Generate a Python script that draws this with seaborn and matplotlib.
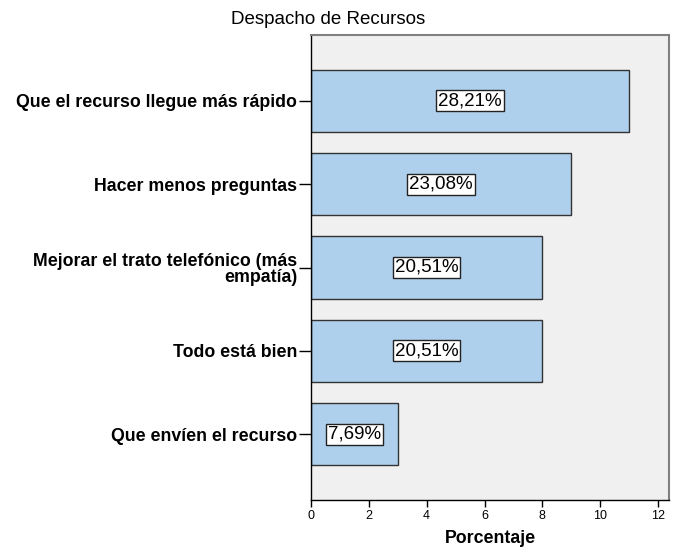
import matplotlib
matplotlib.use("Agg")
import matplotlib.pyplot as plt
import seaborn as sns
import pandas as pd

categorias = ["Que el recurso llegue más rápido",
              "Hacer menos preguntas",
              "Mejorar el trato telefónico (más\nempatía)",
              "Todo está bien",
              "Que envíen el recurso"]
valores = [11, 9, 8, 8, 3]
etiquetas = ["28,21%", "23,08%", "20,51%", "20,51%", "7,69%"]

df = pd.DataFrame({"categoria": categorias, "valor": valores})

sns.set_style("white", {"text.color": "black", "axes.labelcolor": "black",
                        "xtick.color": "black", "ytick.color": "black"})
plt.rcParams["font.family"] = ["Liberation Sans", "DejaVu Sans"]

fig = plt.figure(figsize=(6.84, 5.51), dpi=100)
ax = fig.add_axes([311 / 684, 51 / 551, 358 / 684, 465 / 551])
ax.set_facecolor("#f0f0f0")

sns.barplot(data=df, x="valor", y="categoria", orient="h", color="#afd0ed",
            edgecolor="#333333", linewidth=1, width=0.745, saturation=1, ax=ax)

for i, (v, lab) in enumerate(zip(valores, etiquetas)):
    ax.text(v / 2, i, lab, ha="center", va="center", fontsize=13.5,
            color="black",
            bbox=dict(boxstyle="square,pad=0.1", fc="white", ec="#222222", lw=1))

ax.set_xlim(0, 12.38)
ax.set_ylim(4.79, -0.79)
ax.set_xticks(range(0, 13, 2))
ax.tick_params(axis="x", labelsize=9, length=5, width=1, color="black",
               labelcolor="black", bottom=True, pad=2)
ax.tick_params(axis="y", labelsize=12.8, length=9, width=1, color="black",
               labelcolor="black", left=True, pad=1)
for t in ax.get_yticklabels():
    t.set_fontweight("bold")
    t.set_linespacing(0.95)
ax.set_ylabel("")
ax.set_xlabel("Porcentaje", fontsize=12.8, fontweight="bold", labelpad=6,
              color="black")

for s in ["left", "bottom"]:
    ax.spines[s].set_color("black")
    ax.spines[s].set_linewidth(1)
for s in ["top", "right"]:
    ax.spines[s].set_color("#808080")
    ax.spines[s].set_linewidth(1.5)

fig.text(328 / 684, 1 - 20 / 551, "Despacho de Recursos", ha="center",
         va="center", fontsize=13.5, color="black")

fig.savefig("out.png", dpi=100)
